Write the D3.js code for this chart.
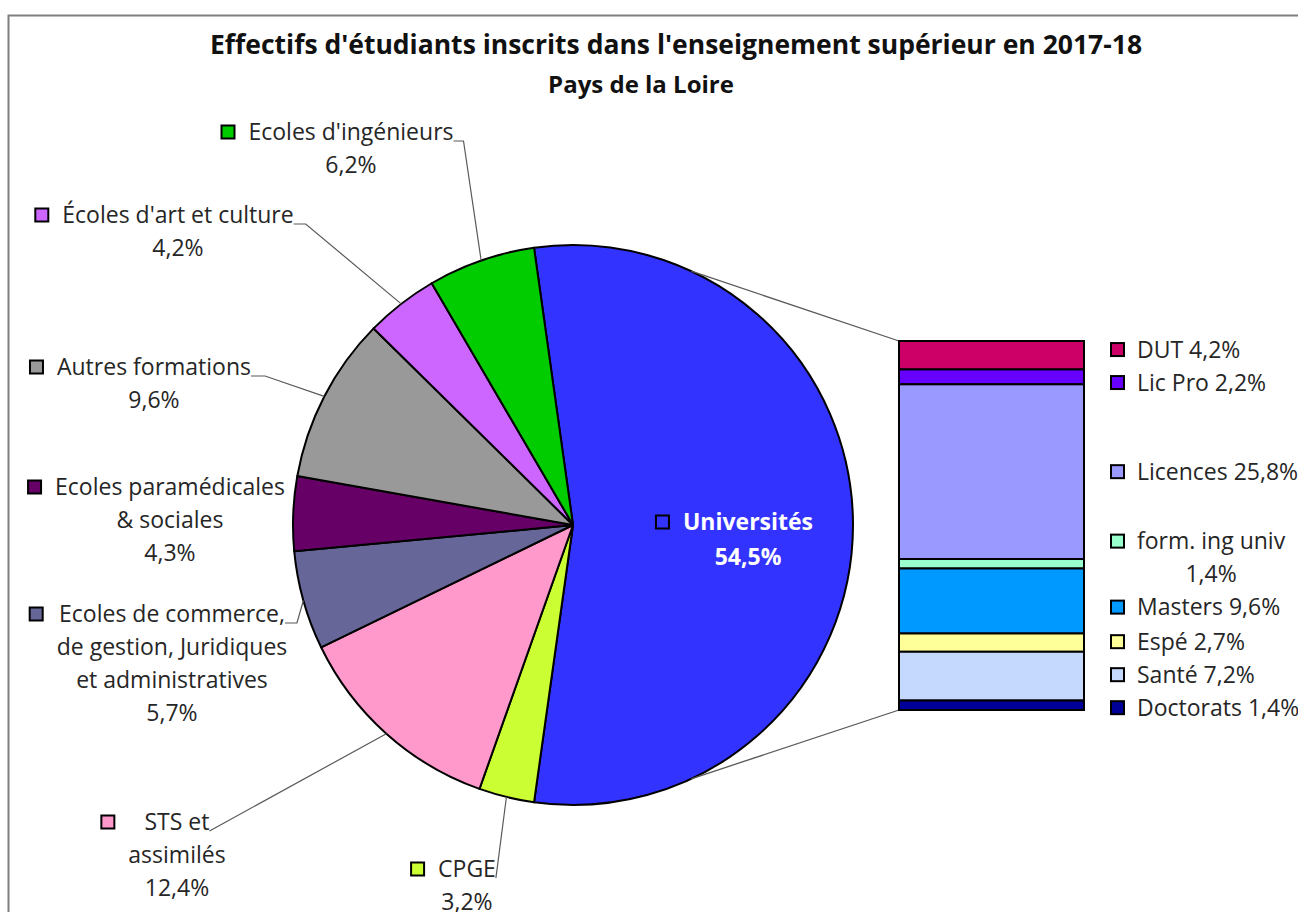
<!DOCTYPE html>
<html>
<head>
<meta charset="utf-8">
<script src="https://cdn.jsdelivr.net/npm/d3@7"></script>
<style>
  body { margin: 0; background: #fff; }
  svg { display: block; }
  text { font-family: "Open Sans", "Noto Sans", sans-serif; }
</style>
</head>
<body>
<svg id="chart" width="1298" height="912"></svg>
<script>
// main pie, clockwise starting with the split slice
const pieNames = ["Universités", "CPGE", "STS et assimilés",
  "Ecoles de commerce, de gestion, Juridiques et administratives",
  "Ecoles paramédicales & sociales", "Autres formations",
  "Écoles d'art et culture", "Ecoles d'ingénieurs"];
const pieValues = [54.5, 3.2, 12.4, 5.7, 4.3, 9.6, 4.2, 6.2];
const pieLabelLines = [
  ["Universités"], ["CPGE"], ["STS et", "assimilés"],
  ["Ecoles de commerce,", "de gestion, Juridiques", "et administratives"],
  ["Ecoles paramédicales", "& sociales"], ["Autres formations"],
  ["Écoles d'art et culture"], ["Ecoles d'ingénieurs"]
];
const pieColors = ["#3333ff", "#ccff33", "#ff99cc", "#666699", "#660066", "#999999", "#cc66ff", "#00cc00"];

// breakdown of Universités (stacked bar, top to bottom)
const barNames = ["DUT", "Lic Pro", "Licences", "form. ing univ", "Masters", "Espé", "Santé", "Doctorats"];
const barValues = [4.2, 2.2, 25.8, 1.4, 9.6, 2.7, 7.2, 1.4];
const barColors = ["#cc0066", "#6600ff", "#9999ff", "#99ffcc", "#0099ff", "#ffff99", "#c5d9ff", "#000099"];

const titleLines = ["Effectifs d'étudiants inscrits dans l'enseignement supérieur en 2017-18", "Pays de la Loire"];

// label placement (centre of the text block, first line) for the pie labels
const pieLabelLayout = [
  { x: 748, y: 522, stub: 0, leader: false, inside: true },
  { x: 467, y: 869, stub: 0, leader: true },
  { x: 177, y: 822, stub: 0, leader: true },
  { x: 172, y: 614, stub: 12, leader: true },
  { x: 170, y: 487, stub: 0, leader: false },
  { x: 154, y: 367, stub: 14, leader: true },
  { x: 178, y: 215, stub: 12, leader: true },
  { x: 351, y: 132, stub: 10, leader: true }
];
const barLabelWrap = [false, false, false, true, false, false, false, false];

const fmt = v => d3.format(".1f")(v).replace(".", ",") + "%";

const svg = d3.select("#chart");
const labelColor = "#262626";
const fontSize = 23, lineH = 33, key = 13;

// frame
svg.append("rect")
  .attr("x", 8.5).attr("y", 15.5)
  .attr("width", 1400).attr("height", 1000)
  .attr("fill", "none").attr("stroke", "#7f7f7f").attr("stroke-width", 2);

// titles
svg.append("text")
  .attr("x", 676).attr("y", 45).attr("dy", "0.35em")
  .attr("text-anchor", "middle")
  .style("font-size", "26.5px").style("font-weight", "700").style("fill", "#111")
  .text(titleLines[0]);
svg.append("text")
  .attr("x", 641).attr("y", 85).attr("dy", "0.35em")
  .attr("text-anchor", "middle")
  .style("font-size", "24px").style("font-weight", "700").style("fill", "#111")
  .text(titleLines[1]);

// pie
const cx = 573, cy = 525, r = 280;
const splitSpan = pieValues[0] / d3.sum(pieValues) * 2 * Math.PI;
const pie = d3.pie().sort(null)
  .startAngle(Math.PI / 2 - splitSpan / 2)
  .endAngle(Math.PI / 2 - splitSpan / 2 + 2 * Math.PI);
const arcs = pie(pieValues);
const arc = d3.arc().innerRadius(0).outerRadius(r);
const edge = d3.arc().innerRadius(r).outerRadius(r);

const g = svg.append("g").attr("transform", `translate(${cx},${cy})`);

// series lines from the pie to the bar
const barX = 899, barW = 185;
const y = d3.scaleLinear().domain([0, d3.sum(barValues)]).range([341, 710]);
const lineAngle = 25 * Math.PI / 180;
[[lineAngle, y(0)], [Math.PI - lineAngle, y(d3.sum(barValues))]].forEach(([a, by]) => {
  svg.append("line")
    .attr("x1", cx + r * Math.sin(a)).attr("y1", cy - r * Math.cos(a))
    .attr("x2", barX).attr("y2", by)
    .attr("stroke", "#595959").attr("stroke-width", 1.3);
});

g.selectAll("path.slice")
  .data(arcs)
  .join("path")
  .attr("class", "slice")
  .attr("d", arc)
  .attr("fill", (d, i) => pieColors[i])
  .attr("stroke", "#000")
  .attr("stroke-width", 2)
  .attr("stroke-linejoin", "round");

// pie labels
arcs.forEach((d, i) => {
  const L = pieLabelLayout[i];
  const lines = pieLabelLines[i].concat([fmt(pieValues[i])]);
  const lg = svg.append("g");
  const texts = lines.map((t, j) => lg.append("text")
    .attr("x", L.x).attr("y", L.y + j * (L.inside ? 35 : lineH)).attr("dy", "0.35em")
    .attr("text-anchor", "middle")
    .style("font-size", fontSize + "px")
    .style("font-weight", L.inside ? "700" : "400")
    .style("fill", L.inside ? "#fff" : labelColor)
    .text(t));
  const widths = texts.map(t => t.node().getComputedTextLength());
  const blockLeft = L.x - d3.max(widths) / 2;
  lg.append("rect")
    .attr("x", blockLeft - 14 - key).attr("y", L.y - key / 2)
    .attr("width", key).attr("height", key)
    .attr("fill", pieColors[i]).attr("stroke", "#000").attr("stroke-width", 2);
  if (L.leader) {
    const x1 = L.x + widths[0] / 2, y1 = L.y + 9;
    const [px, py] = edge.centroid(d);
    svg.append("path")
      .attr("d", `M${x1},${y1}H${x1 + L.stub}L${cx + px},${cy + py}`)
      .attr("fill", "none").attr("stroke", "#595959").attr("stroke-width", 1.2);
  }
});

// stacked bar
let acc = 0;
const segs = barValues.map((v, i) => {
  const s = { i, y0: acc, y1: acc + v };
  acc += v;
  return s;
});
svg.selectAll("rect.seg")
  .data(segs)
  .join("rect")
  .attr("class", "seg")
  .attr("x", barX).attr("width", barW)
  .attr("y", d => y(d.y0))
  .attr("height", d => y(d.y1) - y(d.y0))
  .attr("fill", d => barColors[d.i])
  .attr("stroke", "#000").attr("stroke-width", 2);

// bar labels, pushed apart where they would overlap
const bl = segs.map(s => {
  const n = barLabelWrap[s.i] ? 2 : 1;
  return { i: s.i, n, y: (y(s.y0) + y(s.y1)) / 2, h: n * lineH };
});
for (let k = 0; k < 200; k++) {
  for (let j = 1; j < bl.length; j++) {
    const a = bl[j - 1], b = bl[j];
    const ov = (a.y + a.h / 2) - (b.y - b.h / 2);
    if (ov > 0) { a.y -= ov / 2; b.y += ov / 2; }
  }
}
const textX = 1137;
bl.forEach(l => {
  const name = barNames[l.i], pct = fmt(barValues[l.i]);
  const top = l.y - (l.n - 1) * lineH / 2;
  svg.append("rect")
    .attr("x", textX - 13 - key).attr("y", top - key / 2)
    .attr("width", key).attr("height", key)
    .attr("fill", barColors[l.i]).attr("stroke", "#000").attr("stroke-width", 2);
  if (l.n === 1) {
    svg.append("text")
      .attr("x", textX).attr("y", top).attr("dy", "0.35em")
      .style("font-size", fontSize + "px").style("fill", labelColor)
      .text(`${name} ${pct}`);
  } else {
    const t1 = svg.append("text")
      .attr("x", textX).attr("y", top).attr("dy", "0.35em")
      .style("font-size", fontSize + "px").style("fill", labelColor)
      .text(name);
    const w = t1.node().getComputedTextLength();
    svg.append("text")
      .attr("x", textX + w / 2).attr("y", top + lineH).attr("dy", "0.35em")
      .attr("text-anchor", "middle")
      .style("font-size", fontSize + "px").style("fill", labelColor)
      .text(pct);
  }
});
</script>
</body>
</html>
